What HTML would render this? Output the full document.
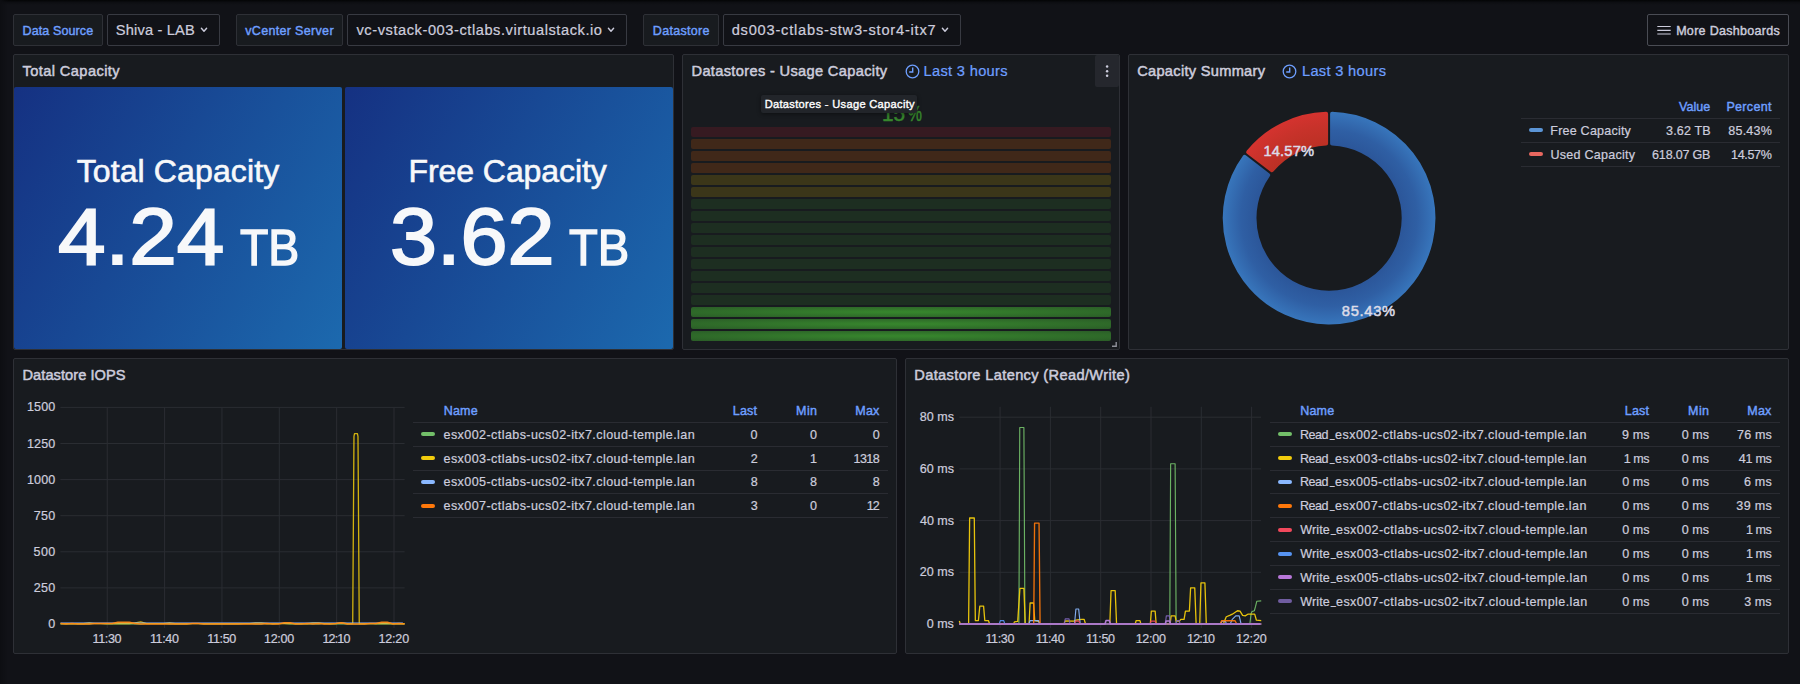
<!DOCTYPE html><html><head><meta charset="utf-8"><title>Datastore dashboard</title><style>

html,body{margin:0;padding:0;background:#111217;}
body{width:1800px;height:684px;position:relative;overflow:hidden;font-family:"Liberation Sans", sans-serif;}
div,span,svg{position:absolute;box-sizing:border-box;}
.t{white-space:nowrap;line-height:1;}
.p{background:#181b1f;border:1px solid #2e3036;border-radius:2px;}
.lb{background:#181b1f;border:1px solid #2e3036;border-radius:2px;}
.sel{background:#111217;border:1px solid #383a42;border-radius:2px;}
.hl{height:1px;background:#2a2c32;}
.mk{height:4px;width:14px;border-radius:2px;}
.z{z-index:5;}

</style></head><body>
<div style="left:0;top:0;width:1800px;height:6px;background:linear-gradient(to bottom,#030405 0,#08090c 1.2px,#0d0e12 2.5px,rgba(17,18,23,0) 5px)"></div>
<div style="left:0;top:0;width:8px;height:684px;background:linear-gradient(to right,#0d0e12 0,rgba(17,18,23,0) 100%)"></div>
<div class="lb" style="left:13px;top:14px;width:90px;height:32px"></div>
<div class="sel" style="left:107px;top:14px;width:113px;height:32px"></div>
<div class="lb" style="left:236px;top:14px;width:107px;height:32px"></div>
<div class="sel" style="left:347px;top:14px;width:280px;height:32px"></div>
<div class="lb" style="left:643px;top:14px;width:76px;height:32px"></div>
<div class="sel" style="left:723px;top:14px;width:238px;height:32px"></div>
<div style="left:1647px;top:14px;width:142px;height:32px;border:1px solid #4a4c54;border-radius:2px;background:#111217"></div>
<svg style="left:199.2px;top:25px" width="10" height="10" viewBox="0 0 10 10"><path d="M2.4 3.2 L5 6.2 L7.6 3.2" fill="none" stroke="#ccccdc" stroke-width="1.4" stroke-linecap="round" stroke-linejoin="round"/></svg>
<svg style="left:606px;top:25px" width="10" height="10" viewBox="0 0 10 10"><path d="M2.4 3.2 L5 6.2 L7.6 3.2" fill="none" stroke="#ccccdc" stroke-width="1.4" stroke-linecap="round" stroke-linejoin="round"/></svg>
<svg style="left:940px;top:25px" width="10" height="10" viewBox="0 0 10 10"><path d="M2.4 3.2 L5 6.2 L7.6 3.2" fill="none" stroke="#ccccdc" stroke-width="1.4" stroke-linecap="round" stroke-linejoin="round"/></svg>
<svg style="left:1657px;top:24px" width="14" height="12" viewBox="0 0 14 12"><path d="M0.3 2.5h13.4M0.3 6.3h13.4M0.3 10h13.4" stroke="#ccccdc" stroke-width="1.2" fill="none"/></svg>
<div class="p" style="left:13px;top:54px;width:661px;height:296px"></div>
<div class="p" style="left:682px;top:54px;width:438px;height:296px"></div>
<div class="p" style="left:1128px;top:54px;width:661px;height:296px"></div>
<div class="p" style="left:13px;top:358px;width:884px;height:296px"></div>
<div class="p" style="left:905px;top:358px;width:884px;height:296px"></div>
<div style="left:14px;top:87px;width:328px;height:262px;background:linear-gradient(120deg, rgb(21,49,130), rgb(28,105,174));border-radius:2px"></div>
<div style="left:345px;top:87px;width:328px;height:262px;background:linear-gradient(120deg, rgb(21,49,130), rgb(28,105,174));border-radius:2px"></div>
<svg style="left:904.5px;top:63.9px" width="15" height="15" viewBox="0 0 15 15"><circle cx="7.5" cy="7.5" r="6.3" fill="none" stroke="#6e9fff" stroke-width="1.3"/><path d="M7.7 3.6V8H4.2" fill="none" stroke="#6e9fff" stroke-width="1.4"/></svg>
<svg style="left:1282.3px;top:63.9px" width="15" height="15" viewBox="0 0 15 15"><circle cx="7.5" cy="7.5" r="6.3" fill="none" stroke="#6e9fff" stroke-width="1.3"/><path d="M7.7 3.6V8H4.2" fill="none" stroke="#6e9fff" stroke-width="1.4"/></svg>
<div style="left:1095px;top:55px;width:24px;height:32px;background:#25272d;border-radius:2px"></div>
<svg style="left:1104px;top:63px" width="6" height="16" viewBox="0 0 6 16"><circle cx="3.1" cy="3.6" r="1.25" fill="#ccccdc"/><circle cx="3.1" cy="8.2" r="1.25" fill="#ccccdc"/><circle cx="3.1" cy="12.8" r="1.25" fill="#ccccdc"/></svg>
<svg style="left:1110px;top:340px" width="8" height="8" viewBox="0 0 8 8"><path d="M2 6.2H6.2V2" fill="none" stroke="#8e9099" stroke-width="1.4"/></svg>
<div style="left:691px;top:127px;width:420px;height:10px;border-radius:2px;background:rgba(196,22,42,0.18)"></div>
<div style="left:691px;top:139px;width:420px;height:10px;border-radius:2px;background:rgba(250,100,0,0.18)"></div>
<div style="left:691px;top:151px;width:420px;height:10px;border-radius:2px;background:rgba(250,100,0,0.18)"></div>
<div style="left:691px;top:163px;width:420px;height:10px;border-radius:2px;background:rgba(250,100,0,0.18)"></div>
<div style="left:691px;top:175px;width:420px;height:10px;border-radius:2px;background:rgba(224,180,0,0.18)"></div>
<div style="left:691px;top:187px;width:420px;height:10px;border-radius:2px;background:rgba(224,180,0,0.18)"></div>
<div style="left:691px;top:199px;width:420px;height:10px;border-radius:2px;background:rgba(55,135,45,0.18)"></div>
<div style="left:691px;top:211px;width:420px;height:10px;border-radius:2px;background:rgba(55,135,45,0.18)"></div>
<div style="left:691px;top:223px;width:420px;height:10px;border-radius:2px;background:rgba(55,135,45,0.18)"></div>
<div style="left:691px;top:235px;width:420px;height:10px;border-radius:2px;background:rgba(55,135,45,0.18)"></div>
<div style="left:691px;top:247px;width:420px;height:10px;border-radius:2px;background:rgba(55,135,45,0.18)"></div>
<div style="left:691px;top:259px;width:420px;height:10px;border-radius:2px;background:rgba(55,135,45,0.18)"></div>
<div style="left:691px;top:271px;width:420px;height:10px;border-radius:2px;background:rgba(55,135,45,0.18)"></div>
<div style="left:691px;top:283px;width:420px;height:10px;border-radius:2px;background:rgba(55,135,45,0.18)"></div>
<div style="left:691px;top:295px;width:420px;height:10px;border-radius:2px;background:rgba(55,135,45,0.18)"></div>
<div style="left:691px;top:307px;width:420px;height:10px;border-radius:2px;background:radial-gradient(rgba(55,135,45,0.97) 10%,rgba(55,135,45,0.6))"></div>
<div style="left:691px;top:319px;width:420px;height:10px;border-radius:2px;background:radial-gradient(rgba(55,135,45,0.97) 10%,rgba(55,135,45,0.6))"></div>
<div style="left:691px;top:331px;width:420px;height:10px;border-radius:2px;background:radial-gradient(rgba(55,135,45,0.97) 10%,rgba(55,135,45,0.6))"></div>
<div class="z" style="left:761px;top:94.6px;width:156px;height:18.2px;background:#22252a;border-radius:2px;box-shadow:0 1px 4px rgba(0,0,0,.45)"></div>
<svg style="left:0;top:0" width="1800" height="684" viewBox="0 0 1800 684"><defs><radialGradient id="gb" gradientUnits="userSpaceOnUse" cx="1329.1" cy="218.05" r="107.35"><stop offset="0.66" stop-color="#2b5598"/><stop offset="0.82" stop-color="#2f5fa4"/><stop offset="1" stop-color="#3877bd"/></radialGradient><radialGradient id="gr" gradientUnits="userSpaceOnUse" cx="1329.1" cy="218.05" r="107.35"><stop offset="0.66" stop-color="#ba3024"/><stop offset="0.85" stop-color="#c7322a"/><stop offset="1" stop-color="#d5332f"/></radialGradient></defs><path d="M1332.10 113.74A104.35 104.35 0 1 1 1244.57 156.86L1268.17 175.00A74.6 74.6 0 1 0 1332.10 143.51Z" fill="url(#gb)" stroke="url(#gb)" stroke-width="4" stroke-linejoin="round"/><path d="M1248.23 152.10A104.35 104.35 0 0 1 1326.10 113.74L1326.10 143.51A74.6 74.6 0 0 0 1271.83 170.25Z" fill="url(#gr)" stroke="url(#gr)" stroke-width="4" stroke-linejoin="round"/><path d="M60.4 624.00H404.6" stroke="#2a2d32" stroke-width="1"/><path d="M60.4 587.90H404.6" stroke="#2a2d32" stroke-width="1"/><path d="M60.4 551.80H404.6" stroke="#2a2d32" stroke-width="1"/><path d="M60.4 515.70H404.6" stroke="#2a2d32" stroke-width="1"/><path d="M60.4 479.60H404.6" stroke="#2a2d32" stroke-width="1"/><path d="M60.4 443.50H404.6" stroke="#2a2d32" stroke-width="1"/><path d="M60.4 407.40H404.6" stroke="#2a2d32" stroke-width="1"/><path d="M107.25 407.4V628.0" stroke="#2a2d32" stroke-width="1"/><path d="M164.60 407.4V628.0" stroke="#2a2d32" stroke-width="1"/><path d="M221.95 407.4V628.0" stroke="#2a2d32" stroke-width="1"/><path d="M279.30 407.4V628.0" stroke="#2a2d32" stroke-width="1"/><path d="M336.65 407.4V628.0" stroke="#2a2d32" stroke-width="1"/><path d="M394.00 407.4V628.0" stroke="#2a2d32" stroke-width="1"/><path d="M60.51 624.00L66.24 624.00L71.98 624.00L77.71 624.00L83.45 624.00L89.18 624.00L94.92 623.57L100.65 623.57L106.39 624.00L112.12 624.00L117.86 624.00L123.59 624.00L129.33 624.00L135.06 624.00L140.80 624.00L146.53 623.57L152.27 623.57L158.00 623.57L163.74 623.57L169.47 624.00L175.21 624.00L180.94 624.00L186.68 624.00L192.41 623.57L198.15 623.57L203.88 624.00L209.62 624.00L215.35 624.00L221.09 624.00L226.82 624.00L232.56 624.00L238.29 624.00L244.03 623.57L249.76 623.57L255.50 624.00L261.23 624.00L266.97 623.57L272.70 624.00L278.44 623.57L284.17 623.57L289.91 624.00L295.64 624.00L301.38 624.00L307.11 624.00L312.85 624.00L318.58 624.00L324.32 623.57L330.05 624.00L335.79 624.00L341.52 624.00L347.26 624.00L352.99 624.00L358.73 624.00L364.46 624.00L370.20 623.57L375.93 624.00L381.67 624.00L387.40 624.00L393.14 624.00L398.87 624.00L404.61 624.00" fill="none" stroke="#73bf69" stroke-width="1.1" stroke-linejoin="round" opacity="1"/><path d="M60.51 623.71L66.24 623.71L71.98 623.71L77.71 623.71L83.45 623.71L89.18 622.84L94.92 623.71L100.65 623.71L106.39 623.71L112.12 623.71L117.86 623.71L123.59 623.71L129.33 623.71L135.06 622.84L140.80 621.98L146.53 623.71L152.27 623.71L158.00 623.71L163.74 623.71L169.47 622.84L175.21 623.71L180.94 623.71L186.68 623.71L192.41 623.71L198.15 623.71L203.88 623.71L209.62 623.71L215.35 623.71L221.09 623.71L226.82 623.71L232.56 623.71L238.29 623.71L244.03 623.71L249.76 623.71L255.50 622.84L261.23 622.84L266.97 623.71L272.70 623.71L278.44 623.71L284.17 623.71L289.91 623.71L295.64 623.71L301.38 623.71L307.11 623.71L312.85 622.84L318.58 622.84L324.32 623.71L330.05 623.71L335.79 623.71L341.52 622.84L347.26 623.71L352.71 623.71L353.97 436.28L354.54 433.68L357.41 433.68L357.98 436.28L359.25 623.71L364.46 623.71L370.20 623.71L375.93 623.71L381.67 623.71L387.40 623.71L393.14 623.71L398.87 623.71L404.61 623.71" fill="none" stroke="#f2cc0c" stroke-width="1.3" stroke-linejoin="round" opacity="0.85"/><path d="M60.51 622.84L402.89 622.84" fill="none" stroke="#8ab8ff" stroke-width="1.0" stroke-linejoin="round" opacity="0.75"/><path d="M60.51 623.57L66.24 624.00L71.98 623.57L77.71 624.00L83.45 624.00L89.18 624.00L94.92 623.57L100.65 623.57L106.39 623.57L112.12 623.57L117.86 622.27L123.59 622.27L129.33 622.27L135.06 623.57L140.80 624.00L146.53 624.00L152.27 624.00L158.00 624.00L163.74 624.00L169.47 624.00L175.21 624.00L180.94 624.00L186.68 624.00L192.41 623.57L198.15 623.57L203.88 624.00L209.62 624.00L215.35 624.00L221.09 624.00L226.82 624.00L232.56 624.00L238.29 624.00L244.03 624.00L249.76 624.00L255.50 624.00L261.23 624.00L266.97 623.57L272.70 624.00L278.44 624.00L284.17 622.70L289.91 622.70L295.64 624.00L301.38 624.00L307.11 623.57L312.85 624.00L318.58 623.57L324.32 624.00L330.05 624.00L335.79 623.57L341.52 622.84L347.26 624.00L352.99 624.00L358.73 624.00L364.46 624.00L370.20 623.57L375.93 623.57L381.67 622.27L387.40 622.27L393.14 624.00L398.87 623.57L404.61 624.00" fill="none" stroke="#ff8a14" stroke-width="1.5" stroke-linejoin="round" opacity="0.95"/><path d="M959.4 624.00H1261" stroke="#2a2d32" stroke-width="1"/><path d="M959.4 572.30H1261" stroke="#2a2d32" stroke-width="1"/><path d="M959.4 520.60H1261" stroke="#2a2d32" stroke-width="1"/><path d="M959.4 468.90H1261" stroke="#2a2d32" stroke-width="1"/><path d="M959.4 417.20H1261" stroke="#2a2d32" stroke-width="1"/><path d="M1000.10 406.8V628.0" stroke="#2a2d32" stroke-width="1"/><path d="M1050.40 406.8V628.0" stroke="#2a2d32" stroke-width="1"/><path d="M1100.70 406.8V628.0" stroke="#2a2d32" stroke-width="1"/><path d="M1151.00 406.8V628.0" stroke="#2a2d32" stroke-width="1"/><path d="M1201.30 406.8V628.0" stroke="#2a2d32" stroke-width="1"/><path d="M1251.60 406.8V628.0" stroke="#2a2d32" stroke-width="1"/><path d="M959.31 624.00L1018.90 624.00L1019.76 427.54L1023.89 427.54L1024.93 624.00L1169.78 624.00L1170.64 463.73L1175.12 463.73L1176.15 624.00L1249.87 624.00L1251.07 613.67L1251.93 611.60L1254.35 610.74L1255.55 606.43L1256.76 601.26L1261.23 600.92" fill="none" stroke="#73bf69" stroke-width="1.15" stroke-linejoin="round" opacity="0.92"/><path d="M959.31 621.07L960.34 624.00L968.61 624.00L969.64 518.01L974.29 518.01L975.32 620.56L978.42 620.56L979.80 606.09L983.59 606.09L984.80 620.56L988.41 620.56L989.62 624.00L1013.56 624.00L1014.42 621.93L1017.69 621.42L1019.93 588.35L1023.89 588.35L1025.27 624.00L1029.06 624.00L1030.09 602.99L1033.54 602.99L1034.75 620.56L1038.53 621.24L1040.26 624.00L1063.85 624.00L1065.23 620.90L1073.84 621.07L1075.56 620.21L1081.59 619.35L1084.18 619.35L1085.55 624.00L1109.84 624.00L1111.05 590.59L1115.18 590.59L1116.56 624.00L1135.16 624.00L1136.19 620.56L1139.98 620.56L1140.84 624.00L1150.32 624.00L1151.35 611.08L1155.14 611.08L1156.17 624.00L1170.12 624.00L1171.16 615.90L1175.12 615.90L1176.15 621.07L1179.42 621.07L1180.80 619.35L1184.07 619.35L1185.45 611.08L1189.41 611.08L1190.62 587.83L1194.75 587.83L1196.13 624.00L1199.75 624.00L1200.95 582.84L1204.91 582.84L1206.29 624.00L1223.34 624.00L1226.27 616.77L1229.72 615.39L1232.30 614.18L1234.88 612.46L1237.47 610.74L1240.05 611.08L1242.63 615.39L1245.22 615.90L1247.80 614.18L1254.69 614.18L1256.41 620.21L1261.23 620.56" fill="none" stroke="#f2cc0c" stroke-width="1.3" stroke-linejoin="round" opacity="0.95"/><path d="M959.31 624.00L1028.89 624.00L1030.09 620.56L1038.53 620.56L1039.57 624.00L1074.53 624.00L1075.91 609.02L1078.67 609.02L1080.22 624.00L1220.76 624.00L1221.97 621.07L1225.41 621.07L1226.44 624.00L1230.23 624.00L1232.30 619.35L1235.74 615.90L1239.19 615.90L1241.08 624.00L1261.23 624.00" fill="none" stroke="#8ab8ff" stroke-width="1.15" stroke-linejoin="round" opacity="0.92"/><path d="M959.31 624.00L1033.71 624.00L1034.57 523.18L1039.05 523.18L1040.08 624.00L1220.24 624.00L1221.62 620.73L1235.06 620.73L1236.78 624.00L1261.23 624.00" fill="none" stroke="#ff780a" stroke-width="1.35" stroke-linejoin="round" opacity="0.92"/><path d="M959.31 624.00L1074.70 624.00L1075.56 621.07L1079.01 621.07L1079.87 624.00L1150.14 624.00L1151.00 621.07L1155.14 621.07L1156.00 624.00L1261.23 624.00" fill="none" stroke="#f2495c" stroke-width="1.15" stroke-linejoin="round" opacity="0.92"/><path d="M959.31 624.00L999.26 624.00L1000.30 620.56L1003.74 620.56L1004.78 624.00L1261.23 624.00" fill="none" stroke="#5794f2" stroke-width="1.15" stroke-linejoin="round" opacity="0.92"/><path d="M959.31 624.00L1064.20 624.00L1065.23 618.83L1069.02 618.83L1070.05 624.00L1165.30 624.00L1166.33 615.90L1169.43 615.90L1170.47 624.00L1175.81 624.00L1176.67 620.56L1179.25 620.56L1180.11 624.00L1261.23 624.00" fill="none" stroke="#7d64b8" stroke-width="1.15" stroke-linejoin="round" opacity="0.92"/><path d="M959.31 624.00L1105.02 624.00L1106.05 620.56L1109.32 620.56L1110.36 624.00L1165.30 624.00L1166.16 621.07L1169.61 621.07L1170.47 624.00L1260.20 624.00" fill="none" stroke="#b27bd2" stroke-width="1.6" stroke-linejoin="round" opacity="1"/></svg>
<div class="hl" style="left:1521px;top:118.0px;width:259px"></div>
<div class="hl" style="left:1521px;top:142.0px;width:259px"></div>
<div class="hl" style="left:1521px;top:165.9px;width:259px"></div>
<div class="mk" style="left:1529px;top:128px;background:#5b95d6"></div>
<div class="mk" style="left:1529px;top:152px;background:#e8675f"></div>
<div class="hl" style="left:413.3px;top:422.0px;width:474.4px"></div>
<div class="hl" style="left:413.3px;top:446.0px;width:474.4px"></div>
<div class="hl" style="left:413.3px;top:469.9px;width:474.4px"></div>
<div class="hl" style="left:413.3px;top:493.2px;width:474.4px"></div>
<div class="hl" style="left:413.3px;top:517.1px;width:474.4px"></div>
<div class="mk" style="left:421px;top:432.2px;background:#73bf69"></div>
<div class="mk" style="left:421px;top:456.2px;background:#f2cc0c"></div>
<div class="mk" style="left:421px;top:480.0px;background:#8ab8ff"></div>
<div class="mk" style="left:421px;top:503.8px;background:#ff780a"></div>
<div class="hl" style="left:1270px;top:422.0px;width:510px"></div>
<div class="hl" style="left:1270px;top:446.0px;width:510px"></div>
<div class="hl" style="left:1270px;top:469.9px;width:510px"></div>
<div class="hl" style="left:1270px;top:493.2px;width:510px"></div>
<div class="hl" style="left:1270px;top:517.1px;width:510px"></div>
<div class="hl" style="left:1270px;top:541.0px;width:510px"></div>
<div class="hl" style="left:1270px;top:564.9px;width:510px"></div>
<div class="hl" style="left:1270px;top:588.7px;width:510px"></div>
<div class="hl" style="left:1270px;top:612.5px;width:510px"></div>
<div class="mk" style="left:1278px;top:432.2px;background:#73bf69"></div>
<div class="mk" style="left:1278px;top:456.2px;background:#f2cc0c"></div>
<div class="mk" style="left:1278px;top:480.0px;background:#8ab8ff"></div>
<div class="mk" style="left:1278px;top:503.8px;background:#ff780a"></div>
<div class="mk" style="left:1278px;top:527.9px;background:#f2495c"></div>
<div class="mk" style="left:1278px;top:552.0px;background:#5794f2"></div>
<div class="mk" style="left:1278px;top:575.2px;background:#b877d9"></div>
<div class="mk" style="left:1278px;top:599.0px;background:#705da0"></div>
<span id="t0" class="t" style="top:25.00px;font-size:12.54px;color:#6e9fff;-webkit-text-stroke:0.42px #6e9fff;letter-spacing:0.092px;left:22.56px;">Data Source</span>
<span id="t1" class="t" style="top:23.00px;font-size:14.63px;color:#ccccdc;-webkit-text-stroke:0.22px #ccccdc;letter-spacing:0.170px;left:115.86px;">Shiva - LAB</span>
<span id="t2" class="t" style="top:25.00px;font-size:12.54px;color:#6e9fff;-webkit-text-stroke:0.42px #6e9fff;letter-spacing:0.308px;left:245.30px;">vCenter Server</span>
<span id="t3" class="t" style="top:23.00px;font-size:14.63px;color:#ccccdc;-webkit-text-stroke:0.22px #ccccdc;letter-spacing:0.559px;left:356.49px;">vc-vstack-003-ctlabs.virtualstack.io</span>
<span id="t4" class="t" style="top:25.00px;font-size:12.54px;color:#6e9fff;-webkit-text-stroke:0.42px #6e9fff;letter-spacing:0.277px;left:652.86px;">Datastore</span>
<span id="t5" class="t" style="top:23.00px;font-size:14.63px;color:#ccccdc;-webkit-text-stroke:0.22px #ccccdc;letter-spacing:0.784px;left:731.67px;">ds003-ctlabs-stw3-stor4-itx7</span>
<span id="t6" class="t" style="top:25.00px;font-size:12.54px;color:#ccccdc;-webkit-text-stroke:0.42px #ccccdc;letter-spacing:0.291px;left:1676.15px;">More Dashboards</span>
<span id="t7" class="t" style="top:64.00px;font-size:14.63px;color:#ccccdc;-webkit-text-stroke:0.5px #ccccdc;letter-spacing:0.405px;left:22.48px;">Total Capacity</span>
<span id="t8" class="t" style="top:64.00px;font-size:14.63px;color:#ccccdc;-webkit-text-stroke:0.5px #ccccdc;letter-spacing:0.332px;left:691.50px;">Datastores - Usage Capacity</span>
<span id="t9" class="t" style="top:64.00px;font-size:14.63px;color:#6e9fff;-webkit-text-stroke:0.22px #6e9fff;letter-spacing:0.321px;left:923.55px;">Last 3 hours</span>
<span id="t10" class="t" style="top:64.00px;font-size:14.63px;color:#ccccdc;-webkit-text-stroke:0.5px #ccccdc;letter-spacing:0.285px;left:1137.19px;">Capacity Summary</span>
<span id="t11" class="t" style="top:64.00px;font-size:14.63px;color:#6e9fff;-webkit-text-stroke:0.22px #6e9fff;letter-spacing:0.321px;left:1301.95px;">Last 3 hours</span>
<span id="t12" class="t" style="top:368.00px;font-size:14.63px;color:#ccccdc;-webkit-text-stroke:0.5px #ccccdc;letter-spacing:0.047px;left:22.50px;">Datastore IOPS</span>
<span id="t13" class="t" style="top:368.00px;font-size:14.63px;color:#ccccdc;-webkit-text-stroke:0.5px #ccccdc;letter-spacing:0.350px;left:914.30px;">Datastore Latency (Read/Write)</span>
<span id="t14" class="t" style="top:155.00px;font-size:32px;color:#f7f8fa;-webkit-text-stroke:0.6px #f7f8fa;letter-spacing:0.125px;left:76.63px;">Total Capacity</span>
<span id="t15" class="t" style="top:197.00px;font-size:79px;color:#f7f8fa;-webkit-text-stroke:1.9px #f7f8fa;transform-origin:0 0;transform:scaleX(1.0816);left:57.94px;">4.24</span>
<span id="t16" class="t" style="top:223.00px;font-size:50px;color:#f7f8fa;-webkit-text-stroke:1.4px #f7f8fa;transform-origin:0 0;transform:scaleX(0.9273);left:240.31px;">TB</span>
<span id="t17" class="t" style="top:155.00px;font-size:32px;color:#f7f8fa;-webkit-text-stroke:0.6px #f7f8fa;letter-spacing:-0.079px;left:408.58px;">Free Capacity</span>
<span id="t18" class="t" style="top:197.00px;font-size:79px;color:#f7f8fa;-webkit-text-stroke:1.9px #f7f8fa;transform-origin:0 0;transform:scaleX(1.0700);left:390.48px;">3.62</span>
<span id="t19" class="t" style="top:223.00px;font-size:50px;color:#f7f8fa;-webkit-text-stroke:1.4px #f7f8fa;transform-origin:0 0;transform:scaleX(0.9419);left:569.20px;">TB</span>
<span id="t20" class="t" style="top:103.00px;font-size:22px;color:#37872d;-webkit-text-stroke:0.5px #37872d;transform-origin:0 0;transform:scaleX(0.9437);left:882.07px;">15</span>
<span id="t21" class="t" style="top:103.00px;font-size:22px;color:#37872d;-webkit-text-stroke:0.5px #37872d;transform-origin:0 0;transform:scaleX(0.7131);left:907.87px;">%</span>
<span id="t22" class="t z" style="top:99.00px;font-size:11.1px;color:#ffffff;-webkit-text-stroke:0.37px #ffffff;letter-spacing:0.313px;left:764.67px;">Datastores - Usage Capacity</span>
<span id="t23" class="t" style="top:101.00px;font-size:12.54px;color:#6e9fff;-webkit-text-stroke:0.42px #6e9fff;letter-spacing:-0.005px;left:1679.09px;">Value</span>
<span id="t24" class="t" style="top:101.00px;font-size:12.54px;color:#6e9fff;-webkit-text-stroke:0.42px #6e9fff;letter-spacing:0.302px;left:1726.45px;">Percent</span>
<span id="t25" class="t" style="top:125.00px;font-size:12.54px;color:#ccccdc;-webkit-text-stroke:0.22px #ccccdc;letter-spacing:0.209px;left:1550.33px;">Free Capacity</span>
<span id="t26" class="t" style="top:125.00px;font-size:12.54px;color:#ccccdc;-webkit-text-stroke:0.22px #ccccdc;letter-spacing:0.159px;left:1666.04px;">3.62 TB</span>
<span id="t27" class="t" style="top:125.00px;font-size:12.54px;color:#ccccdc;-webkit-text-stroke:0.22px #ccccdc;letter-spacing:0.188px;left:1728.36px;">85.43%</span>
<span id="t28" class="t" style="top:149.00px;font-size:12.54px;color:#ccccdc;-webkit-text-stroke:0.22px #ccccdc;letter-spacing:0.261px;left:1550.46px;">Used Capacity</span>
<span id="t29" class="t" style="top:149.00px;font-size:12.54px;color:#ccccdc;-webkit-text-stroke:0.22px #ccccdc;letter-spacing:-0.198px;left:1652.10px;">618.07 GB</span>
<span id="t30" class="t" style="top:149.00px;font-size:12.54px;color:#ccccdc;-webkit-text-stroke:0.22px #ccccdc;letter-spacing:-0.358px;left:1731.09px;">14.57%</span>
<span id="t31" class="t" style="top:144.00px;font-size:14.7px;color:#dcdce8;-webkit-text-stroke:0.5px #dcdce8;letter-spacing:0.191px;left:1263.39px;">14.57%</span>
<span id="t32" class="t" style="top:304.00px;font-size:14.7px;color:#dcdce8;-webkit-text-stroke:0.5px #dcdce8;letter-spacing:0.694px;left:1341.77px;">85.43%</span>
<span id="t33" class="t" style="top:618.00px;font-size:12.54px;color:#ccccdc;-webkit-text-stroke:0.22px #ccccdc;left:48.29px;">0</span>
<span id="t34" class="t" style="top:582.00px;font-size:12.54px;color:#ccccdc;-webkit-text-stroke:0.22px #ccccdc;letter-spacing:0.282px;left:33.73px;">250</span>
<span id="t35" class="t" style="top:546.00px;font-size:12.54px;color:#ccccdc;-webkit-text-stroke:0.22px #ccccdc;letter-spacing:0.348px;left:33.60px;">500</span>
<span id="t36" class="t" style="top:510.00px;font-size:12.54px;color:#ccccdc;-webkit-text-stroke:0.22px #ccccdc;letter-spacing:0.261px;left:33.77px;">750</span>
<span id="t37" class="t" style="top:474.00px;font-size:12.54px;color:#ccccdc;-webkit-text-stroke:0.22px #ccccdc;letter-spacing:0.068px;left:27.09px;">1000</span>
<span id="t38" class="t" style="top:438.00px;font-size:12.54px;color:#ccccdc;-webkit-text-stroke:0.22px #ccccdc;letter-spacing:0.068px;left:27.09px;">1250</span>
<span id="t39" class="t" style="top:401.00px;font-size:12.54px;color:#ccccdc;-webkit-text-stroke:0.22px #ccccdc;letter-spacing:0.068px;left:27.09px;">1500</span>
<span id="t40" class="t" style="top:633.00px;font-size:12.54px;color:#ccccdc;-webkit-text-stroke:0.22px #ccccdc;letter-spacing:-0.374px;left:92.59px;">11:30</span>
<span id="t41" class="t" style="top:633.00px;font-size:12.54px;color:#ccccdc;-webkit-text-stroke:0.22px #ccccdc;letter-spacing:-0.374px;left:149.94px;">11:40</span>
<span id="t42" class="t" style="top:633.00px;font-size:12.54px;color:#ccccdc;-webkit-text-stroke:0.22px #ccccdc;letter-spacing:-0.374px;left:207.29px;">11:50</span>
<span id="t43" class="t" style="top:633.00px;font-size:12.54px;color:#ccccdc;-webkit-text-stroke:0.22px #ccccdc;letter-spacing:-0.274px;left:263.94px;">12:00</span>
<span id="t44" class="t" style="top:633.00px;font-size:12.54px;color:#ccccdc;-webkit-text-stroke:0.22px #ccccdc;letter-spacing:-0.824px;left:322.39px;">12:10</span>
<span id="t45" class="t" style="top:633.00px;font-size:12.54px;color:#ccccdc;-webkit-text-stroke:0.22px #ccccdc;letter-spacing:-0.149px;left:378.39px;">12:20</span>
<span id="t46" class="t" style="top:405.00px;font-size:12.54px;color:#6e9fff;-webkit-text-stroke:0.42px #6e9fff;letter-spacing:0.209px;left:443.65px;">Name</span>
<span id="t47" class="t" style="top:405.00px;font-size:12.54px;color:#6e9fff;-webkit-text-stroke:0.42px #6e9fff;letter-spacing:0.171px;left:732.85px;">Last</span>
<span id="t48" class="t" style="top:405.00px;font-size:12.54px;color:#6e9fff;-webkit-text-stroke:0.42px #6e9fff;letter-spacing:0.420px;left:796.05px;">Min</span>
<span id="t49" class="t" style="top:405.00px;font-size:12.54px;color:#6e9fff;-webkit-text-stroke:0.42px #6e9fff;letter-spacing:0.204px;left:855.25px;">Max</span>
<span id="t50" class="t" style="top:429.00px;font-size:12.54px;color:#ccccdc;-webkit-text-stroke:0.22px #ccccdc;letter-spacing:0.428px;left:443.49px;">esx002-ctlabs-ucs02-itx7.cloud-temple.lan</span>
<span id="t51" class="t" style="top:429.00px;font-size:12.54px;color:#ccccdc;-webkit-text-stroke:0.22px #ccccdc;left:750.59px;">0</span>
<span id="t52" class="t" style="top:429.00px;font-size:12.54px;color:#ccccdc;-webkit-text-stroke:0.22px #ccccdc;left:809.99px;">0</span>
<span id="t53" class="t" style="top:429.00px;font-size:12.54px;color:#ccccdc;-webkit-text-stroke:0.22px #ccccdc;left:872.69px;">0</span>
<span id="t54" class="t" style="top:453.00px;font-size:12.54px;color:#ccccdc;-webkit-text-stroke:0.22px #ccccdc;letter-spacing:0.428px;left:443.49px;">esx003-ctlabs-ucs02-itx7.cloud-temple.lan</span>
<span id="t55" class="t" style="top:453.00px;font-size:12.54px;color:#ccccdc;-webkit-text-stroke:0.22px #ccccdc;left:750.64px;">2</span>
<span id="t56" class="t" style="top:453.00px;font-size:12.54px;color:#ccccdc;-webkit-text-stroke:0.22px #ccccdc;left:810.03px;">1</span>
<span id="t57" class="t" style="top:453.00px;font-size:12.54px;color:#ccccdc;-webkit-text-stroke:0.22px #ccccdc;letter-spacing:-0.609px;left:853.59px;">1318</span>
<span id="t58" class="t" style="top:476.00px;font-size:12.54px;color:#ccccdc;-webkit-text-stroke:0.22px #ccccdc;letter-spacing:0.428px;left:443.49px;">esx005-ctlabs-ucs02-itx7.cloud-temple.lan</span>
<span id="t59" class="t" style="top:476.00px;font-size:12.54px;color:#ccccdc;-webkit-text-stroke:0.22px #ccccdc;left:750.66px;">8</span>
<span id="t60" class="t" style="top:476.00px;font-size:12.54px;color:#ccccdc;-webkit-text-stroke:0.22px #ccccdc;left:810.06px;">8</span>
<span id="t61" class="t" style="top:476.00px;font-size:12.54px;color:#ccccdc;-webkit-text-stroke:0.22px #ccccdc;left:872.76px;">8</span>
<span id="t62" class="t" style="top:500.00px;font-size:12.54px;color:#ccccdc;-webkit-text-stroke:0.22px #ccccdc;letter-spacing:0.428px;left:443.49px;">esx007-ctlabs-ucs02-itx7.cloud-temple.lan</span>
<span id="t63" class="t" style="top:500.00px;font-size:12.54px;color:#ccccdc;-webkit-text-stroke:0.22px #ccccdc;left:750.67px;">3</span>
<span id="t64" class="t" style="top:500.00px;font-size:12.54px;color:#ccccdc;-webkit-text-stroke:0.22px #ccccdc;left:809.99px;">0</span>
<span id="t65" class="t" style="top:500.00px;font-size:12.54px;color:#ccccdc;-webkit-text-stroke:0.22px #ccccdc;letter-spacing:-1.049px;left:866.79px;">12</span>
<span id="t66" class="t" style="top:618.00px;font-size:12.54px;color:#ccccdc;-webkit-text-stroke:0.22px #ccccdc;letter-spacing:-0.043px;left:926.83px;">0 ms</span>
<span id="t67" class="t" style="top:566.00px;font-size:12.54px;color:#ccccdc;-webkit-text-stroke:0.22px #ccccdc;letter-spacing:0.039px;left:919.73px;">20 ms</span>
<span id="t68" class="t" style="top:515.00px;font-size:12.54px;color:#ccccdc;-webkit-text-stroke:0.22px #ccccdc;letter-spacing:-0.039px;left:920.04px;">40 ms</span>
<span id="t69" class="t" style="top:463.00px;font-size:12.54px;color:#ccccdc;-webkit-text-stroke:0.22px #ccccdc;letter-spacing:0.045px;left:919.70px;">60 ms</span>
<span id="t70" class="t" style="top:411.00px;font-size:12.54px;color:#ccccdc;-webkit-text-stroke:0.22px #ccccdc;letter-spacing:0.031px;left:919.76px;">80 ms</span>
<span id="t71" class="t" style="top:633.00px;font-size:12.54px;color:#ccccdc;-webkit-text-stroke:0.22px #ccccdc;letter-spacing:-0.374px;left:985.44px;">11:30</span>
<span id="t72" class="t" style="top:633.00px;font-size:12.54px;color:#ccccdc;-webkit-text-stroke:0.22px #ccccdc;letter-spacing:-0.374px;left:1035.74px;">11:40</span>
<span id="t73" class="t" style="top:633.00px;font-size:12.54px;color:#ccccdc;-webkit-text-stroke:0.22px #ccccdc;letter-spacing:-0.374px;left:1086.04px;">11:50</span>
<span id="t74" class="t" style="top:633.00px;font-size:12.54px;color:#ccccdc;-webkit-text-stroke:0.22px #ccccdc;letter-spacing:-0.274px;left:1135.64px;">12:00</span>
<span id="t75" class="t" style="top:633.00px;font-size:12.54px;color:#ccccdc;-webkit-text-stroke:0.22px #ccccdc;letter-spacing:-0.824px;left:1187.04px;">12:10</span>
<span id="t76" class="t" style="top:633.00px;font-size:12.54px;color:#ccccdc;-webkit-text-stroke:0.22px #ccccdc;letter-spacing:-0.149px;left:1235.99px;">12:20</span>
<span id="t77" class="t" style="top:405.00px;font-size:12.54px;color:#6e9fff;-webkit-text-stroke:0.42px #6e9fff;letter-spacing:0.209px;left:1300.15px;">Name</span>
<span id="t78" class="t" style="top:405.00px;font-size:12.54px;color:#6e9fff;-webkit-text-stroke:0.42px #6e9fff;letter-spacing:0.171px;left:1624.85px;">Last</span>
<span id="t79" class="t" style="top:405.00px;font-size:12.54px;color:#6e9fff;-webkit-text-stroke:0.42px #6e9fff;letter-spacing:0.420px;left:1688.05px;">Min</span>
<span id="t80" class="t" style="top:405.00px;font-size:12.54px;color:#6e9fff;-webkit-text-stroke:0.42px #6e9fff;letter-spacing:0.204px;left:1747.25px;">Max</span>
<span id="t81" class="t" style="top:429.00px;font-size:12.54px;color:#ccccdc;-webkit-text-stroke:0.22px #ccccdc;letter-spacing:-0.490px;left:1300.03px;">Read</span>
<span id="t82" class="t" style="top:427.00px;font-size:12.54px;color:#ccccdc;-webkit-text-stroke:0.4px #ccccdc;transform-origin:0 0;transform:scaleX(0.6298);left:1330.49px;">_</span>
<span id="t83" class="t" style="top:429.00px;font-size:12.54px;color:#ccccdc;-webkit-text-stroke:0.22px #ccccdc;letter-spacing:0.433px;left:1335.09px;">esx002-ctlabs-ucs02-itx7.cloud-temple.lan</span>
<span id="t84" class="t" style="top:429.00px;font-size:12.54px;color:#ccccdc;-webkit-text-stroke:0.22px #ccccdc;letter-spacing:0.099px;left:1622.10px;">9 ms</span>
<span id="t85" class="t" style="top:429.00px;font-size:12.54px;color:#ccccdc;-webkit-text-stroke:0.22px #ccccdc;letter-spacing:0.057px;left:1681.63px;">0 ms</span>
<span id="t86" class="t" style="top:429.00px;font-size:12.54px;color:#ccccdc;-webkit-text-stroke:0.22px #ccccdc;letter-spacing:0.153px;left:1737.07px;">76 ms</span>
<span id="t87" class="t" style="top:453.00px;font-size:12.54px;color:#ccccdc;-webkit-text-stroke:0.22px #ccccdc;letter-spacing:-0.490px;left:1300.03px;">Read</span>
<span id="t88" class="t" style="top:451.00px;font-size:12.54px;color:#ccccdc;-webkit-text-stroke:0.4px #ccccdc;transform-origin:0 0;transform:scaleX(0.6298);left:1330.49px;">_</span>
<span id="t89" class="t" style="top:453.00px;font-size:12.54px;color:#ccccdc;-webkit-text-stroke:0.22px #ccccdc;letter-spacing:0.433px;left:1335.09px;">esx003-ctlabs-ucs02-itx7.cloud-temple.lan</span>
<span id="t90" class="t" style="top:453.00px;font-size:12.54px;color:#ccccdc;-webkit-text-stroke:0.22px #ccccdc;letter-spacing:-0.462px;left:1623.79px;">1 ms</span>
<span id="t91" class="t" style="top:453.00px;font-size:12.54px;color:#ccccdc;-webkit-text-stroke:0.22px #ccccdc;letter-spacing:0.057px;left:1681.63px;">0 ms</span>
<span id="t92" class="t" style="top:453.00px;font-size:12.54px;color:#ccccdc;-webkit-text-stroke:0.22px #ccccdc;letter-spacing:-0.289px;left:1738.84px;">41 ms</span>
<span id="t93" class="t" style="top:476.00px;font-size:12.54px;color:#ccccdc;-webkit-text-stroke:0.22px #ccccdc;letter-spacing:-0.490px;left:1300.03px;">Read</span>
<span id="t94" class="t" style="top:474.00px;font-size:12.54px;color:#ccccdc;-webkit-text-stroke:0.4px #ccccdc;transform-origin:0 0;transform:scaleX(0.6298);left:1330.49px;">_</span>
<span id="t95" class="t" style="top:476.00px;font-size:12.54px;color:#ccccdc;-webkit-text-stroke:0.22px #ccccdc;letter-spacing:0.433px;left:1335.09px;">esx005-ctlabs-ucs02-itx7.cloud-temple.lan</span>
<span id="t96" class="t" style="top:476.00px;font-size:12.54px;color:#ccccdc;-webkit-text-stroke:0.22px #ccccdc;letter-spacing:0.057px;left:1622.23px;">0 ms</span>
<span id="t97" class="t" style="top:476.00px;font-size:12.54px;color:#ccccdc;-webkit-text-stroke:0.22px #ccccdc;letter-spacing:0.057px;left:1681.63px;">0 ms</span>
<span id="t98" class="t" style="top:476.00px;font-size:12.54px;color:#ccccdc;-webkit-text-stroke:0.22px #ccccdc;letter-spacing:0.199px;left:1743.90px;">6 ms</span>
<span id="t99" class="t" style="top:500.00px;font-size:12.54px;color:#ccccdc;-webkit-text-stroke:0.22px #ccccdc;letter-spacing:-0.490px;left:1300.03px;">Read</span>
<span id="t100" class="t" style="top:498.00px;font-size:12.54px;color:#ccccdc;-webkit-text-stroke:0.4px #ccccdc;transform-origin:0 0;transform:scaleX(0.6298);left:1330.49px;">_</span>
<span id="t101" class="t" style="top:500.00px;font-size:12.54px;color:#ccccdc;-webkit-text-stroke:0.22px #ccccdc;letter-spacing:0.433px;left:1335.09px;">esx007-ctlabs-ucs02-itx7.cloud-temple.lan</span>
<span id="t102" class="t" style="top:500.00px;font-size:12.54px;color:#ccccdc;-webkit-text-stroke:0.22px #ccccdc;letter-spacing:0.057px;left:1622.23px;">0 ms</span>
<span id="t103" class="t" style="top:500.00px;font-size:12.54px;color:#ccccdc;-webkit-text-stroke:0.22px #ccccdc;letter-spacing:0.057px;left:1681.63px;">0 ms</span>
<span id="t104" class="t" style="top:500.00px;font-size:12.54px;color:#ccccdc;-webkit-text-stroke:0.22px #ccccdc;letter-spacing:0.335px;left:1736.34px;">39 ms</span>
<span id="t105" class="t" style="top:524.00px;font-size:12.54px;color:#ccccdc;-webkit-text-stroke:0.22px #ccccdc;letter-spacing:0.115px;left:1300.26px;">Write</span>
<span id="t106" class="t" style="top:522.00px;font-size:12.54px;color:#ccccdc;-webkit-text-stroke:0.4px #ccccdc;transform-origin:0 0;transform:scaleX(0.6668);left:1330.81px;">_</span>
<span id="t107" class="t" style="top:524.00px;font-size:12.54px;color:#ccccdc;-webkit-text-stroke:0.22px #ccccdc;letter-spacing:0.428px;left:1335.99px;">esx002-ctlabs-ucs02-itx7.cloud-temple.lan</span>
<span id="t108" class="t" style="top:524.00px;font-size:12.54px;color:#ccccdc;-webkit-text-stroke:0.22px #ccccdc;letter-spacing:0.057px;left:1622.23px;">0 ms</span>
<span id="t109" class="t" style="top:524.00px;font-size:12.54px;color:#ccccdc;-webkit-text-stroke:0.22px #ccccdc;letter-spacing:0.057px;left:1681.63px;">0 ms</span>
<span id="t110" class="t" style="top:524.00px;font-size:12.54px;color:#ccccdc;-webkit-text-stroke:0.22px #ccccdc;letter-spacing:-0.462px;left:1745.89px;">1 ms</span>
<span id="t111" class="t" style="top:548.00px;font-size:12.54px;color:#ccccdc;-webkit-text-stroke:0.22px #ccccdc;letter-spacing:0.115px;left:1300.26px;">Write</span>
<span id="t112" class="t" style="top:546.00px;font-size:12.54px;color:#ccccdc;-webkit-text-stroke:0.4px #ccccdc;transform-origin:0 0;transform:scaleX(0.6668);left:1330.81px;">_</span>
<span id="t113" class="t" style="top:548.00px;font-size:12.54px;color:#ccccdc;-webkit-text-stroke:0.22px #ccccdc;letter-spacing:0.428px;left:1335.99px;">esx003-ctlabs-ucs02-itx7.cloud-temple.lan</span>
<span id="t114" class="t" style="top:548.00px;font-size:12.54px;color:#ccccdc;-webkit-text-stroke:0.22px #ccccdc;letter-spacing:0.057px;left:1622.23px;">0 ms</span>
<span id="t115" class="t" style="top:548.00px;font-size:12.54px;color:#ccccdc;-webkit-text-stroke:0.22px #ccccdc;letter-spacing:0.057px;left:1681.63px;">0 ms</span>
<span id="t116" class="t" style="top:548.00px;font-size:12.54px;color:#ccccdc;-webkit-text-stroke:0.22px #ccccdc;letter-spacing:-0.462px;left:1745.89px;">1 ms</span>
<span id="t117" class="t" style="top:572.00px;font-size:12.54px;color:#ccccdc;-webkit-text-stroke:0.22px #ccccdc;letter-spacing:0.115px;left:1300.26px;">Write</span>
<span id="t118" class="t" style="top:570.00px;font-size:12.54px;color:#ccccdc;-webkit-text-stroke:0.4px #ccccdc;transform-origin:0 0;transform:scaleX(0.6668);left:1330.81px;">_</span>
<span id="t119" class="t" style="top:572.00px;font-size:12.54px;color:#ccccdc;-webkit-text-stroke:0.22px #ccccdc;letter-spacing:0.428px;left:1335.99px;">esx005-ctlabs-ucs02-itx7.cloud-temple.lan</span>
<span id="t120" class="t" style="top:572.00px;font-size:12.54px;color:#ccccdc;-webkit-text-stroke:0.22px #ccccdc;letter-spacing:0.057px;left:1622.23px;">0 ms</span>
<span id="t121" class="t" style="top:572.00px;font-size:12.54px;color:#ccccdc;-webkit-text-stroke:0.22px #ccccdc;letter-spacing:0.057px;left:1681.63px;">0 ms</span>
<span id="t122" class="t" style="top:572.00px;font-size:12.54px;color:#ccccdc;-webkit-text-stroke:0.22px #ccccdc;letter-spacing:-0.462px;left:1745.89px;">1 ms</span>
<span id="t123" class="t" style="top:596.00px;font-size:12.54px;color:#ccccdc;-webkit-text-stroke:0.22px #ccccdc;letter-spacing:0.115px;left:1300.26px;">Write</span>
<span id="t124" class="t" style="top:594.00px;font-size:12.54px;color:#ccccdc;-webkit-text-stroke:0.4px #ccccdc;transform-origin:0 0;transform:scaleX(0.6668);left:1330.81px;">_</span>
<span id="t125" class="t" style="top:596.00px;font-size:12.54px;color:#ccccdc;-webkit-text-stroke:0.22px #ccccdc;letter-spacing:0.428px;left:1335.99px;">esx007-ctlabs-ucs02-itx7.cloud-temple.lan</span>
<span id="t126" class="t" style="top:596.00px;font-size:12.54px;color:#ccccdc;-webkit-text-stroke:0.22px #ccccdc;letter-spacing:0.057px;left:1622.23px;">0 ms</span>
<span id="t127" class="t" style="top:596.00px;font-size:12.54px;color:#ccccdc;-webkit-text-stroke:0.22px #ccccdc;letter-spacing:0.057px;left:1681.63px;">0 ms</span>
<span id="t128" class="t" style="top:596.00px;font-size:12.54px;color:#ccccdc;-webkit-text-stroke:0.22px #ccccdc;letter-spacing:0.119px;left:1744.14px;">3 ms</span>
</body></html>
